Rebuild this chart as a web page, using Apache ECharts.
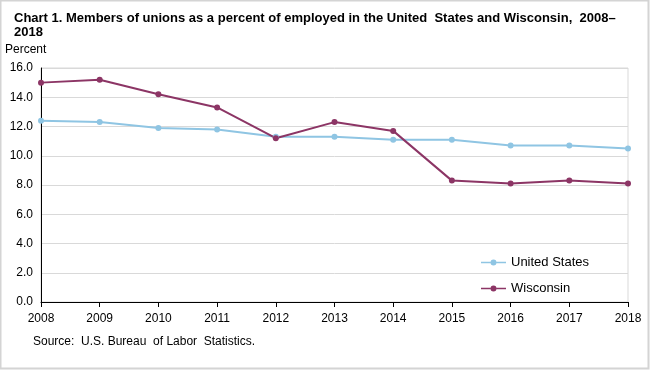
<!DOCTYPE html>
<html><head><meta charset="utf-8">
<script src="https://cdn.jsdelivr.net/npm/echarts@6/dist/echarts.min.js"></script>
<style>html,body{margin:0;padding:0;background:#fff}#c{width:650px;height:370px}</style>
</head><body><div id="c"></div>
<script>
const years = ['2008','2009','2010','2011','2012','2013','2014','2015','2016','2017','2018'];
const unitedStates = [12.4, 12.3, 11.9, 11.8, 11.3, 11.3, 11.1, 11.1, 10.7, 10.7, 10.5];
const wisconsin = [15.0, 15.2, 14.2, 13.3, 11.2, 12.3, 11.7, 8.3, 8.1, 8.3, 8.1];
const titleText = 'Chart 1. Members of unions as a percent of employed in the United  States and Wisconsin,  2008–\n2018';
const font = '"Liberation Sans", Arial, sans-serif';
const legendIcon = 'path://M0,6.2H9.5V7.8H0Z M15.5,6.2H25V7.8H15.5Z M9.5,7A3,3 0 1,1 15.5,7A3,3 0 1,1 9.5,7Z';

const chart = echarts.init(document.getElementById('c'), null, {renderer: 'canvas'});
chart.setOption({
  animation: false,
  textStyle: {fontFamily: font},
  title: {
    text: titleText, left: 9, top: 6,
    textStyle: {fontFamily: font, fontSize: 13, fontWeight: 'bold', color: '#000', lineHeight: 14}
  },
  graphic: [
    {type: 'rect', shape: {x: 0.5, y: 0.5, width: 648, height: 368}, style: {fill: 'none', stroke: '#d4d4d4', lineWidth: 2}},
    {type: 'text', left: 5, top: 44, style: {text: 'Percent', font: '12px ' + font, fill: '#000'}},
    {type: 'text', left: 33, top: 336, style: {text: 'Source:  U.S. Bureau  of Labor  Statistics.', font: '12px ' + font, fill: '#000'}}
  ],
  grid: {left: 41, right: 22, top: 68, bottom: 68, show: true, borderColor: '#d9d9d9', borderWidth: 1},
  legend: {
    orient: 'vertical', left: 476, top: 251, itemGap: 13, itemWidth: 25, itemHeight: 14,
    itemStyle: {borderWidth: 0},
    textStyle: {fontFamily: font, fontSize: 13, color: '#000'},
    data: [
      {name: 'United States', icon: legendIcon},
      {name: 'Wisconsin', icon: legendIcon}
    ]
  },
  xAxis: {
    type: 'category', data: years, boundaryGap: false,
    axisLine: {lineStyle: {color: '#000', width: 1}},
    axisTick: {show: true, length: 5, lineStyle: {color: '#000'}},
    axisLabel: {color: '#000', fontSize: 12, margin: 11, fontFamily: font}
  },
  yAxis: {
    type: 'value', min: 0, max: 16, interval: 2,
    axisLine: {show: true, lineStyle: {color: '#000', width: 1}},
    axisTick: {show: false},
    splitLine: {lineStyle: {color: '#d9d9d9'}},
    axisLabel: {color: '#000', fontSize: 12, margin: 8, fontFamily: font, formatter: v => v.toFixed(1)}
  },
  series: [
    {name: 'United States', type: 'line', data: unitedStates, color: '#8fc5e3',
     symbol: 'circle', symbolSize: 6, lineStyle: {width: 2}, itemStyle: {color: '#8fc5e3'}},
    {name: 'Wisconsin', type: 'line', data: wisconsin, color: '#8c3565',
     symbol: 'circle', symbolSize: 6, lineStyle: {width: 2}, itemStyle: {color: '#8c3565'}}
  ]
});
</script></body></html>
